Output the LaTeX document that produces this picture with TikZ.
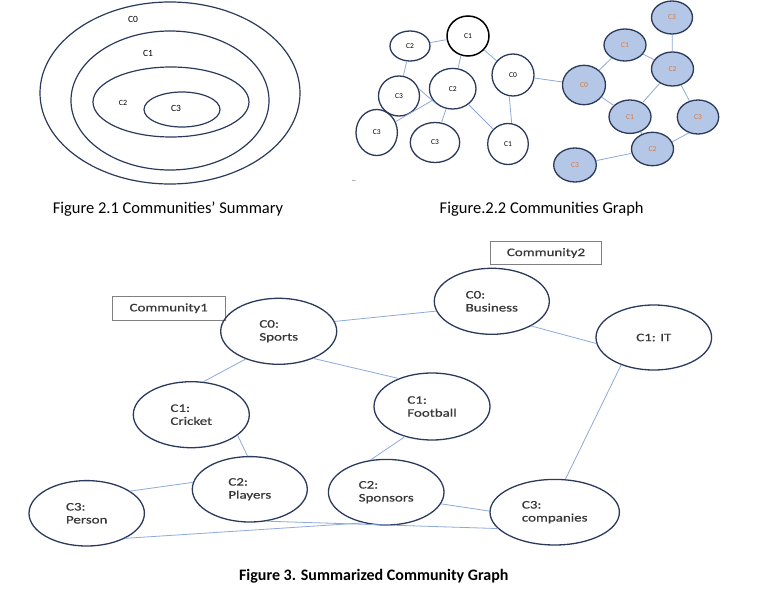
\documentclass[tikz,border=0pt]{standalone}
\usepackage{fontspec}
\setmainfont{Carlito}
\newfontfamily\wide[FakeStretch=1.3,FakeBold=0.6]{Carlito}
\usetikzlibrary{shapes.geometric}
\definecolor{navy}{HTML}{2B3A5C}
\definecolor{edgeblue}{HTML}{8EA9DB}
\definecolor{bluefill}{HTML}{B4C7E7}
\definecolor{orangetxt}{HTML}{E0773A}
\definecolor{darktxt}{HTML}{383838}
\definecolor{boxgray}{HTML}{808080}
\begin{document}
\begin{tikzpicture}[x=1pt,y=-1pt,
  ring/.style={ellipse, draw=navy, line width=1.2pt, inner sep=0pt},
  ringlbl/.style={inner sep=0pt, font=\fontsize{9.5}{10}\selectfont, text=black},
  sm/.style={ellipse, draw=navy, line width=1.3pt, inner sep=0pt, font=\fontsize{7.5}{8}\selectfont},
  smb/.style={sm, fill=bluefill, text=orangetxt},
  link/.style={draw=edgeblue, line width=0.8pt},
  big/.style={ellipse, draw=navy, line width=1.3pt, inner sep=0pt, minimum width=116pt, minimum height=66pt,
    font=\wide\fontsize{11.5}{13}\selectfont, text=darktxt, align=left},
  cbox/.style={draw=boxgray, line width=0.8pt, inner sep=0pt, minimum height=23.5pt,
    font=\wide\fontsize{11.5}{13}\selectfont, text=darktxt},
  captext/.style={inner sep=0pt, font=\fontsize{16.5}{18}\selectfont, text=black}
]
\useasboundingbox (0,0) rectangle (784,604);
\fill[white] (0,0) rectangle (784,604);

% ---------- Figure 2.1 ----------
\node[ring, minimum width=260pt, minimum height=182pt] (r0) at (170,93) {};
\node[ring, minimum width=198pt, minimum height=139pt] (r1) at (170,100.5) {};
\node[ring, minimum width=156pt, minimum height=70pt] (r2) at (171,102) {};
\node[ring, minimum width=76pt, minimum height=35pt] (r3) at (182,109.5) {};
\node[ringlbl] (l0) at (133,19) {C0};
\node[ringlbl] (l1) at (148,53) {C1};
\node[ringlbl, font=\fontsize{8}{9}\selectfont] (l2) at (123,103) {C2};
\node[ringlbl] (l3) at (176,108) {C3};
\node[captext] (cap21) at (168,209) {Figure 2.1 Communities’ Summary};

% ---------- Figure 2.2 ----------
\node[sm, minimum width=40pt, minimum height=30pt] (a2) at (410,46) {C2};
\node[sm, draw=black, line width=1.5pt, minimum width=42pt, minimum height=40pt] (a1) at (468,36) {C1};
\node[sm, minimum width=42pt, minimum height=42pt] (a0) at (513,75) {C0};
\node[sm, minimum width=46.6pt, minimum height=40.6pt] (b2) at (452.7,88.7) {C2};
\node[sm, minimum width=41pt, minimum height=40pt] (b3) at (399,96) {C3};
\node[sm, minimum width=41.4pt, minimum height=46pt] (c3) at (376.7,132.5) {C3};
\node[sm, minimum width=49.4pt, minimum height=40pt] (d3) at (435,142.5) {C3};
\node[sm, minimum width=40.6pt, minimum height=41pt] (e1) at (508,144) {C1};

\node[smb, minimum width=43pt, minimum height=39.4pt] (p0) at (584,85) {C0};
\node[smb, minimum width=42pt, minimum height=32pt] (p1) at (625,45) {C1};
\node[smb, minimum width=41pt, minimum height=33pt] (p3) at (672,17.5) {C3};
\node[smb, minimum width=42pt, minimum height=34pt] (q2) at (672.5,69) {C2};
\node[smb, minimum width=42pt, minimum height=33.4pt] (q1) at (630,116.7) {C1};
\node[smb, minimum width=41.4pt, minimum height=34pt] (q3) at (698,117) {C3};
\node[smb, minimum width=42pt, minimum height=33.4pt] (s2) at (652.5,149) {C2};
\node[smb, minimum width=42.6pt, minimum height=34pt] (s3) at (575,165) {C3};

\draw[link] (a2) -- (a1);
\draw[link] (a2) -- (b3);
\draw[link] (a1.-110) -- (b2.75);
\draw[link] (a1) -- (a0);
\draw[link] (b3.20) -- (b2.-140);
\draw[link] (b2) -- (c3);
\draw[link] (b2) -- (d3);
\draw[link] (b2) -- (e1);
\draw[link] (a0.-100) -- (e1.80);
\draw[link] (a0) -- (p0);
\draw[link] (p0) -- (p1);
\draw[link] (p0) -- (q1);
\draw[link] (p1) -- (q2);
\draw[link] (p3) -- (q2);
\draw[link] (q2) -- (q1);
\draw[link] (q2) -- (q3);
\draw[link] (q1) -- (s2);
\draw[link] (q3.-120) -- (s2.20);
\draw[link] (s2) -- (s3);

\node[inner sep=0pt, font=\fontsize{7}{7}\selectfont] (dots) at (354,181) {..};
\node[captext] (cap22) at (541.7,209) {Figure.2.2 Communities Graph};

% ---------- Figure 3 ----------
\node[cbox, minimum width=112.7pt] (com1) at (168.7,308.3) {Community1};
\node[cbox, minimum width=110.6pt] (com2) at (546,253) {Community2};

\node[big] (sports) at (278.7,331.3) {C0:\\Sports};
\node[big, minimum width=115pt] (business) at (491.8,301.3) {C0:\\Business};
\node[big, minimum width=115.6pt, minimum height=65pt] (it) at (653.8,337.5) {C1: IT};
\node[big] (cricket) at (191.3,414.7) {C1:\\Cricket};
\node[big, minimum height=67pt] (football) at (432,406.5) {C1:\\Football};
\node[big, minimum width=115pt, minimum height=65.4pt] (players) at (249.8,489.3) {C2:\\Players};
\node[big, minimum width=115.4pt, minimum height=65.4pt] (person) at (86.7,513.3) {C3:\\Person};
\node[big, minimum width=115.6pt, minimum height=65.6pt] (sponsors) at (386.2,492.2) {C2:\\Sponsors};
\node[big, minimum width=129.4pt, minimum height=65.6pt] (companies) at (554.7,512.2) {C3:\\companies};

\draw[link] (sports.10) -- (business.190);
\draw[link] (sports.-38) -- (football.140);
\draw[link] (sports.-140) -- (cricket.70);
\draw[link] (business.-32) -- (it.-174);
\draw[link] (it.-140) -- (companies.72);
\draw[link] (cricket.-24) -- (players.94);
\draw[link] (players.173) -- (person.27);
\draw[link] (football.-132) -- (sponsors.116);
\draw[link] (sponsors.-12) -- (companies.179);
\draw[link] (person.-33) -- (sponsors.-127);
\draw[link] (players.-62) -- (companies.-164);

\node[captext, font=\bfseries\fontsize{16}{18}\selectfont] (cap3) at (373.8,576.7) {Figure 3. Summarized Community Graph};
\end{tikzpicture}
\end{document}
